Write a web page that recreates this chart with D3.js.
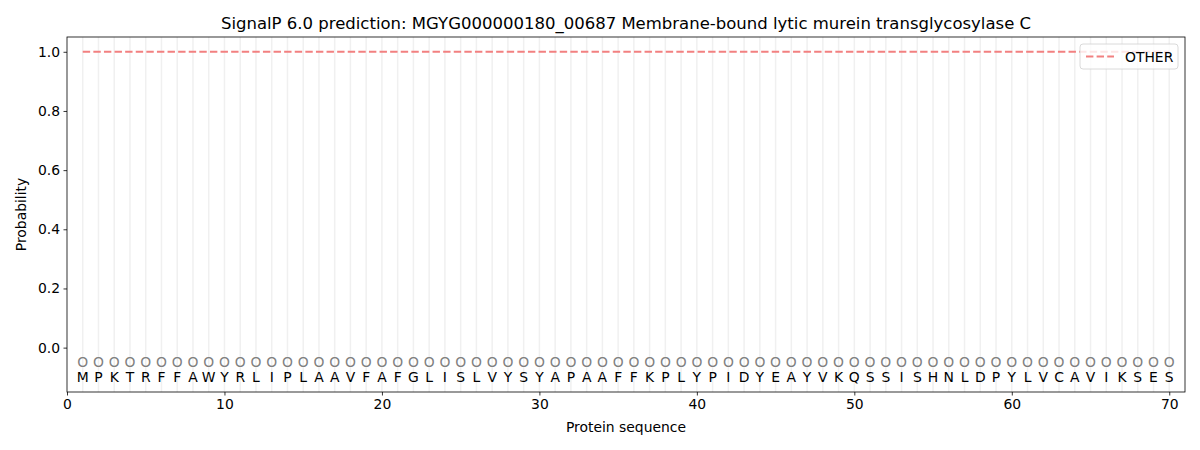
<!DOCTYPE html>
<html>
<head>
<meta charset="utf-8">
<script src="https://cdn.jsdelivr.net/npm/d3@7"></script>
<style>
  body { margin: 0; background: #fff; }
  text { font-family: "DejaVu Sans", sans-serif; }
</style>
</head>
<body>
<div id="chart"></div>
<script>
var sequence = "MPKTRFFAWYRLIPLAAVFAFGLISLVYSYAPAAFFKPLYPIDYEAYVKQSSISHNLDPYLVCAVIKSES".split("");
var positions = sequence.map(function(d, i) { return i + 1; });
var predLabels = positions.map(function() { return "O"; });
var otherProb = positions.map(function() { return 1.0; });
var yTicks = [0.0, 0.2, 0.4, 0.6, 0.8, 1.0];
var xTicks = [0, 10, 20, 30, 40, 50, 60, 70];

var width = 1200, height = 450;
var margin = {left: 67, right: 15, top: 37, bottom: 58};

var svg = d3.select("#chart").append("svg")
    .attr("width", width)
    .attr("height", height);

var x = d3.scaleLinear().domain([0, 71]).range([margin.left, width - margin.right]);
var y = d3.scaleLinear().domain([-0.15, 1.05]).range([height - margin.bottom, margin.top]);

// vertical guide per residue
svg.append("g").selectAll("line")
    .data(positions)
    .enter().append("line")
    .attr("x1", function(d) { return x(d); })
    .attr("x2", function(d) { return x(d); })
    .attr("y1", y(1.05))
    .attr("y2", y(-0.15))
    .attr("stroke", "#f0f0f0")
    .attr("stroke-width", 1.5);

// OTHER probability
var line = d3.line()
    .x(function(d, i) { return x(positions[i]); })
    .y(function(d) { return y(d); });

svg.append("path")
    .datum(otherProb)
    .attr("d", line)
    .attr("fill", "none")
    .attr("stroke", "#f28080")
    .attr("stroke-width", 2)
    .attr("stroke-dasharray", "7.4,3.2");

// predicted labels
svg.append("g").selectAll("text")
    .data(predLabels)
    .enter().append("text")
    .attr("x", function(d, i) { return x(positions[i]); })
    .attr("y", y(-0.05))
    .attr("dy", "0.36em")
    .attr("text-anchor", "middle")
    .attr("font-size", 13.9)
    .attr("fill", "#808080")
    .text(function(d) { return d; });

// amino acids
svg.append("g").selectAll("text")
    .data(sequence)
    .enter().append("text")
    .attr("x", function(d, i) { return x(positions[i]); })
    .attr("y", y(-0.1))
    .attr("dy", "0.36em")
    .attr("text-anchor", "middle")
    .attr("font-size", 13.9)
    .attr("fill", "#000")
    .text(function(d) { return d; });

// axes
var xAxis = svg.append("g")
    .attr("transform", "translate(0," + (height - margin.bottom) + ")")
    .call(d3.axisBottom(x).tickValues(xTicks).tickSize(3.5).tickPadding(3.5).tickFormat(d3.format("d")));
var yAxis = svg.append("g")
    .attr("transform", "translate(" + margin.left + ",0)")
    .call(d3.axisLeft(y).tickValues(yTicks).tickSize(3.5).tickPadding(3.5).tickFormat(d3.format(".1f")));

[xAxis, yAxis].forEach(function(a) {
    a.selectAll("text").attr("font-size", 13.9).attr("fill", "#000").style("font-family", "DejaVu Sans");
    a.selectAll("line").attr("stroke", "#000").attr("stroke-width", 0.8);
    a.select(".domain").remove();
});

svg.append("rect")
    .attr("x", margin.left)
    .attr("y", margin.top)
    .attr("width", width - margin.left - margin.right)
    .attr("height", height - margin.top - margin.bottom)
    .attr("fill", "none")
    .attr("stroke", "#000")
    .attr("stroke-width", 0.8);

// titles
svg.append("text")
    .attr("x", (margin.left + width - margin.right) / 2)
    .attr("y", 29)
    .attr("text-anchor", "middle")
    .attr("font-size", 16.5)
    .text("SignalP 6.0 prediction: MGYG000000180_00687 Membrane-bound lytic murein transglycosylase C");

svg.append("text")
    .attr("x", (margin.left + width - margin.right) / 2)
    .attr("y", 432)
    .attr("text-anchor", "middle")
    .attr("font-size", 13.9)
    .text("Protein sequence");

svg.append("text")
    .attr("transform", "translate(26," + y(0.45) + ") rotate(-90)")
    .attr("text-anchor", "middle")
    .attr("font-size", 13.9)
    .text("Probability");

// legend
var lg = svg.append("g").attr("transform", "translate(1080,44)");
lg.append("rect")
    .attr("width", 98).attr("height", 25).attr("rx", 3)
    .attr("fill", "#fff").attr("fill-opacity", 0.8)
    .attr("stroke", "#d0d0d0").attr("stroke-width", 0.8);
lg.append("line")
    .attr("x1", 6).attr("x2", 34).attr("y1", 12.5).attr("y2", 12.5)
    .attr("stroke", "#f28080").attr("stroke-width", 2)
    .attr("stroke-dasharray", "7.4,3.2");
lg.append("text")
    .attr("x", 45).attr("y", 12.5).attr("dy", "0.36em")
    .attr("font-size", 13.9)
    .text("OTHER");
</script>
</body>
</html>
